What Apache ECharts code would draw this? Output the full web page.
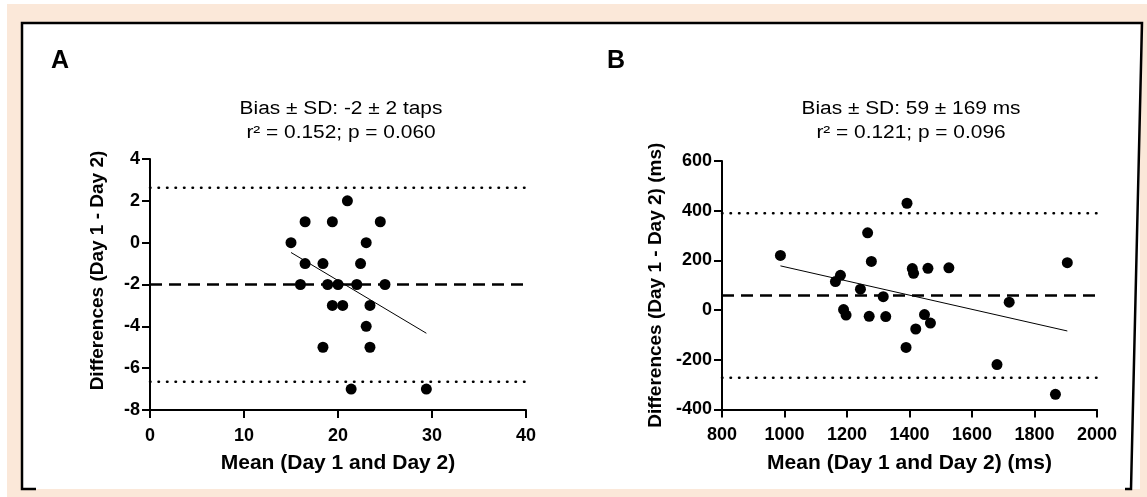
<!DOCTYPE html>
<html><head><meta charset="utf-8">
<script src="https://cdn.jsdelivr.net/npm/echarts@6/dist/echarts.min.js"></script>
<style>html,body{margin:0;padding:0;background:#fff}#c{width:1147px;height:497px}</style>
</head><body><div id="c"></div>
<script>
// ---- Panel A data (taps) ----
const aPoints = [[21,2],[16.5,1],[19.4,1],[24.5,1],[15,0],[23,0],[16.5,-1],[18.4,-1],[22.4,-1],
  [16,-2],[18.9,-2],[20,-2],[22,-2],[25,-2],[19.4,-3],[20.5,-3],[23.4,-3],[23,-4],[18.4,-5],[23.4,-5],
  [21.4,-7],[29.4,-7]];
const aFit = [[15,-0.47],[29.4,-4.33]];
const aBias = -2, aUpperLoA = 2.63, aLowerLoA = -6.65;
const aXRange = [0, 40, 10];   // min, max, interval
const aYRange = [-8, 4, 2];
const aTitle = ['Bias ± SD: -2 ± 2 taps', 'r² = 0.152; p = 0.060'];
const aXName = 'Mean (Day 1 and Day 2)';
const aYName = 'Differences (Day 1 - Day 2)';

// ---- Panel B data (ms) ----
const bPoints = [[987,220],[1179,140],[1163,115],[1266,311],[1278,196],[1392,430],[1409,167],[1413,148],
  [1459,168],[1526,170],[1243,84],[1316,54],[1189,2],[1197,-20],[1271,-25],[1324,-26],[1448,-18],
  [1467,-52],[1420,-76],[1389,-150],[1680,-219],[1719,32],[1905,191],[1867,-339]];
const bFit = [[987,178],[1905,-84]];
const bBias = 59, bUpperLoA = 390, bLowerLoA = -272;
const bXRange = [800, 2000, 200];
const bYRange = [-400, 600, 200];
const bTitle = ['Bias ± SD: 59 ± 169 ms', 'r² = 0.121; p = 0.096'];
const bXName = 'Mean (Day 1 and Day 2) (ms)';
const bYName = 'Differences (Day 1 - Day 2) (ms)';

const FONT = '"Liberation Sans", Arial, sans-serif';

function xAxis(idx, r, name){
  return {gridIndex: idx, type:'value', min:r[0], max:r[1], interval:r[2],
    name:name, nameLocation:'middle', nameGap:43,
    nameTextStyle:{fontFamily:FONT, fontWeight:'bold', fontSize:21, color:'#000'},
    axisLine:{show:true, onZero:false, lineStyle:{color:'#000', width:2}},
    axisTick:{show:true, inside:false, length:8, lineStyle:{color:'#000', width:2}},
    axisLabel:{fontFamily:FONT, fontWeight:'bold', fontSize:18, color:'#000', margin:17,
      formatter: v => String(v)},
    splitLine:{show:false}};
}
function yAxis(idx, r, name, gap, shiftUp){
  return {gridIndex: idx, type:'value', min:r[0], max:r[1], interval:r[2],
    name:name, nameLocation:'middle', nameGap:gap, nameRotate:90,
    nameTextStyle:{fontFamily:FONT, fontWeight:'bold', fontSize:19, color:'#000',
      padding:[0, 0, 0, shiftUp*2]},
    axisLine:{show:true, onZero:false, lineStyle:{color:'#000', width:2}},
    axisTick:{show:true, inside:false, length:8, lineStyle:{color:'#000', width:2}},
    axisLabel:{fontFamily:FONT, fontWeight:'bold', fontSize:18, color:'#000', margin:10,
      formatter: v => String(v)},
    splitLine:{show:false}};
}
function hline(idx, xr, v, type, width){
  return {type:'line', xAxisIndex:idx, yAxisIndex:idx, data:[[xr[0],v],[xr[1],v]],
    symbol:'none', silent:true, lineStyle:{color:'#000', width:width, type:type, cap:'round', opacity:1}, z:2};
}
function panelSeries(idx, pts, fit, bias, up, lo, xr){
  return [
    hline(idx, xr, up, [0.5,8], 2.5),
    hline(idx, xr, lo, [0.5,8], 2.5),
    {type:'line', xAxisIndex:idx, yAxisIndex:idx, data:[[xr[0],bias],[xr[1],bias]], symbol:'none', silent:true,
      lineStyle:{color:'#000', width:2.5, type:[12,7], opacity:1}, z:2},
    {type:'line', xAxisIndex:idx, yAxisIndex:idx, data:fit, symbol:'none', silent:true,
      lineStyle:{color:'#000', width:1, opacity:1}, z:3},
    {type:'scatter', xAxisIndex:idx, yAxisIndex:idx, data:pts, symbolSize:11,
      itemStyle:{color:'#000', opacity:1}, z:4}
  ];
}
function sub(text, x, y){
  return {type:'text', x:x, y:y, scaleX:1.16, scaleY:1,
    style:{text:text, fontFamily:FONT, fontSize:18, fill:'#000', align:'center', verticalAlign:'middle'}};
}

const chart = echarts.init(document.getElementById('c'), null, {renderer:'canvas'});
chart.setOption({
  animation:false,
  backgroundColor:'#fff',
  graphic:[
    {type:'rect', shape:{x:7,y:4,width:1140,height:493}, style:{fill:'#FBE8D9'}, z:-10, silent:true},
    {type:'rect', shape:{x:22,y:23,width:1118,height:466}, style:{fill:'#fff'}, z:-9, silent:true},
    {type:'polyline', shape:{points:[[36,489],[22,489],[22,23],[1142,23],[1131,489],[1125,489]]},
      style:{stroke:'#000', lineWidth:2.5, fill:null}, z:-8, silent:true},
    {type:'text', x:60, y:61, style:{text:'A', fontFamily:FONT, fontWeight:'bold', fontSize:25, fill:'#000', align:'center', verticalAlign:'middle'}},
    {type:'text', x:616, y:61, style:{text:'B', fontFamily:FONT, fontWeight:'bold', fontSize:25, fill:'#000', align:'center', verticalAlign:'middle'}},
    sub(aTitle[0], 341, 109), sub(aTitle[1], 341, 133),
    sub(bTitle[0], 911, 109), sub(bTitle[1], 911, 133)
  ],
  grid:[
    {left:150, top:159, width:376, height:251},
    {left:722, top:161, width:375, height:248.5}
  ],
  xAxis:[xAxis(0, aXRange, aXName), xAxis(1, bXRange, bXName)],
  yAxis:[yAxis(0, aYRange, aYName, 43, 14), yAxis(1, bYRange, bYName, 57, 0)],
  series:[].concat(
    panelSeries(0, aPoints, aFit, aBias, aUpperLoA, aLowerLoA, [aXRange[0], aXRange[1]]),
    panelSeries(1, bPoints, bFit, bBias, bUpperLoA, bLowerLoA, [bXRange[0], bXRange[1]])
  )
});
</script></body></html>
